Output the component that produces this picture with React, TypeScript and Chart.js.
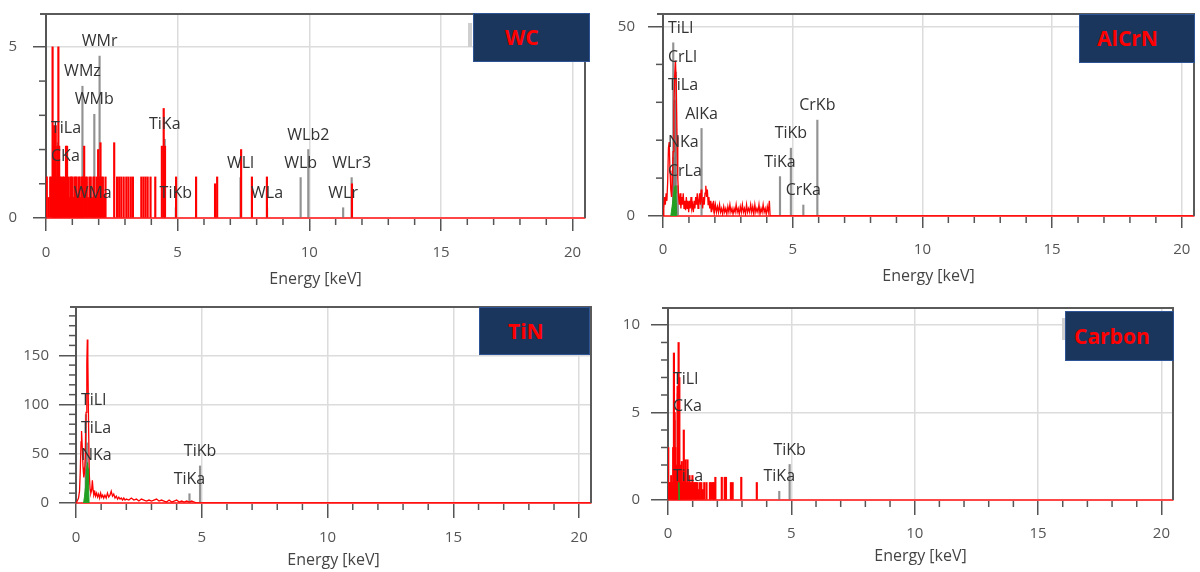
import React, { useEffect, useRef } from 'react';
import { Chart, registerables } from 'chart.js';
Chart.register(...registerables);

const FONT = '"Open Sans", "Noto Sans", sans-serif';
Chart.defaults.font.family = FONT;

// ---------------- data ----------------
const X_MAX_KEV = 20.47;
const X_TICKS = [0, 5, 10, 15, 20];
const X_TITLE = 'Energy [keV]';
const PANEL_TITLES = ['WC', 'AlCrN', 'TiN', 'Carbon'];

// WC : spectrum spikes [energy keV, counts]
const wcSpikes: [number, number][] = [
  [0.03, 1.2], [0.10, 0.6], [0.16, 1.2], [0.20, 1.2], [0.25, 5.0], [0.28, 2.1], [0.31, 2.7], [0.34, 1.2],
  [0.37, 2.7], [0.40, 1.2], [0.43, 2.1], [0.47, 5.0], [0.50, 2.1], [0.53, 1.2], [0.57, 1.2], [0.60, 0.6],
  [0.64, 1.2], [0.68, 1.2], [0.72, 0.6], [0.76, 2.1], [0.80, 2.1], [0.84, 1.2], [0.88, 0.6], [0.92, 1.2],
  [0.96, 1.2], [1.00, 1.2], [1.04, 0.6], [1.08, 1.2], [1.12, 1.2], [1.16, 1.2], [1.20, 0.6], [1.24, 1.2],
  [1.28, 1.2], [1.32, 0.6], [1.36, 1.2], [1.40, 1.2], [1.45, 2.1], [1.50, 1.2], [1.55, 1.2], [1.60, 0.6],
  [1.65, 1.2], [1.70, 1.2], [1.75, 0.6], [1.80, 1.2], [1.84, 1.2], [1.88, 0.6], [1.93, 1.2], [1.98, 2.0],
  [2.03, 1.2], [2.07, 2.2], [2.11, 1.2], [2.16, 1.2], [2.21, 0.6], [2.26, 1.2], [2.59, 2.2], [2.70, 1.2],
  [2.78, 1.2], [2.86, 1.2], [2.95, 1.2], [3.05, 1.2], [3.13, 1.2], [3.22, 1.2], [3.30, 1.2], [3.62, 1.2],
  [3.70, 1.2], [3.78, 1.2], [3.86, 1.2], [3.97, 1.2], [4.15, 1.2], [4.40, 2.1], [4.47, 3.2], [4.52, 2.1],
  [4.94, 1.2], [5.70, 1.2], [6.42, 1.0], [6.50, 1.2], [7.41, 2.0], [7.82, 1.2], [8.39, 1.2], [11.62, 1.0],
];
const wcYTicks = [0, 5];
const wcLineNames = ['CKa', 'TiLa', 'WMz', 'WMa', 'WMb', 'WMr', 'TiKa', 'TiKb', 'WLl', 'WLa', 'WLb', 'WLb2', 'WLr', 'WLr3'];
const wcLineEnergies = [0.277, 0.452, 1.384, 1.775, 1.835, 2.035, 4.51, 4.93, 7.387, 8.396, 9.671, 9.961, 11.285, 11.608];
const wcLineHeights = [1.37, 2.2, 3.85, 0.3, 3.03, 4.73, 2.3, 0.3, 1.18, 0.3, 1.18, 2.0, 0.3, 1.18];

// AlCrN : spectrum [energy, counts]
const alcrnSpectrum: [number, number][] = [
  [0, 0], [0.03, 2], [0.06, 5], [0.09, 3], [0.12, 6], [0.15, 4], [0.18, 9], [0.21, 18], [0.24, 19.5],
  [0.27, 12], [0.30, 7], [0.33, 5], [0.36, 9], [0.39, 17], [0.42, 28], [0.45, 37], [0.48, 41], [0.51, 35],
  [0.54, 21], [0.57, 10], [0.60, 5], [0.63, 3], [0.66, 6], [0.69, 2], [0.72, 5], [0.75, 3], [0.78, 6],
  [0.81, 2], [0.84, 4], [0.87, 1.5], [0.90, 5], [0.93, 2], [0.96, 4], [0.99, 1], [1.02, 4], [1.05, 2],
  [1.08, 5], [1.11, 2], [1.14, 3], [1.17, 1], [1.20, 4], [1.23, 2], [1.26, 5], [1.29, 3], [1.32, 6],
  [1.35, 2], [1.38, 4], [1.41, 6], [1.44, 3], [1.47, 7], [1.50, 4], [1.53, 2], [1.56, 5], [1.59, 3],
  [1.62, 6], [1.65, 8], [1.68, 5], [1.71, 7], [1.74, 3], [1.77, 5], [1.80, 2], [1.83, 4], [1.86, 1],
  [1.89, 3], [1.92, 2], [1.95, 4], [1.98, 1], [2.02, 3], [2.06, 1], [2.10, 2.5], [2.14, 1], [2.18, 3],
  [2.22, 1], [2.26, 2], [2.30, 0.5], [2.34, 2.5], [2.38, 1], [2.42, 2], [2.46, 0.5], [2.50, 2.5], [2.54, 1],
  [2.58, 3], [2.62, 1], [2.66, 2], [2.70, 0.5], [2.74, 2], [2.78, 1], [2.82, 3], [2.86, 1], [2.90, 2],
  [2.94, 0.5], [2.98, 2.5], [3.02, 1], [3.06, 3], [3.10, 1], [3.14, 2], [3.18, 0.5], [3.22, 3], [3.26, 1],
  [3.30, 2], [3.34, 1], [3.38, 3], [3.42, 1], [3.46, 2.5], [3.50, 0.5], [3.54, 3], [3.58, 1], [3.62, 2],
  [3.66, 1], [3.70, 3], [3.74, 0.5], [3.78, 2], [3.82, 1], [3.86, 3], [3.90, 1], [3.94, 2], [3.98, 0.5],
  [4.02, 2.5], [4.06, 1], [4.10, 4], [4.13, 0], [20.47, 0],
];
const alcrnFit: [number, number][] = [[0.30, 0], [0.35, 2.5], [0.40, 5], [0.44, 7.5], [0.47, 8], [0.50, 6], [0.53, 0]];
const alcrnYTicks = [0, 50];
const alcrnLineNames = ['TiLl', 'CrLl', 'TiLa', 'NKa', 'CrLa', 'AlKa', 'TiKa', 'TiKb', 'CrKa', 'CrKb'];
const alcrnLineEnergies = [0.395, 0.5, 0.452, 0.392, 0.573, 1.486, 4.51, 4.93, 5.41, 5.95];
const alcrnLineHeights = [45.7, 38, 30.5, 15.5, 8, 23.1, 10.4, 17.9, 2.9, 25.3];

// TiN : spectrum [energy, counts]
const tinSpectrum: [number, number][] = [
  [0, 0], [0.05, 2], [0.10, 5], [0.14, 12], [0.17, 32], [0.20, 62], [0.22, 73], [0.25, 56], [0.28, 36],
  [0.31, 26], [0.34, 31], [0.37, 48], [0.40, 92], [0.43, 142], [0.45, 166], [0.47, 148], [0.50, 78],
  [0.53, 28], [0.56, 14], [0.59, 10], [0.62, 13], [0.65, 23], [0.68, 13], [0.71, 8], [0.75, 11], [0.78, 7],
  [0.82, 10], [0.86, 6], [0.90, 9], [0.94, 5], [0.98, 10], [1.02, 6], [1.06, 8], [1.10, 5], [1.15, 8],
  [1.20, 5], [1.25, 10], [1.30, 6], [1.35, 8], [1.40, 12], [1.45, 7], [1.50, 9], [1.55, 5], [1.60, 7],
  [1.65, 4], [1.70, 6], [1.75, 4], [1.80, 5], [1.85, 3], [1.90, 5], [1.95, 3], [2.00, 4], [2.10, 3],
  [2.20, 5], [2.30, 3], [2.40, 4], [2.50, 2], [2.60, 4], [2.70, 3], [2.80, 2], [2.90, 3], [3.00, 2],
  [3.10, 3], [3.20, 4], [3.30, 2], [3.40, 3], [3.50, 2], [3.60, 1], [3.70, 3], [3.80, 1], [3.90, 2],
  [4.00, 3], [4.10, 1], [4.20, 2], [4.30, 1], [4.40, 2], [4.50, 1], [4.60, 2], [4.70, 1], [4.80, 0], [20.47, 0],
];
const tinFit: [number, number][] = [[0.30, 0], [0.34, 7], [0.38, 17], [0.41, 28], [0.44, 38], [0.46, 41], [0.48, 35], [0.50, 18], [0.52, 0]];
const tinYTicks = [0, 50, 100, 150];
const tinLineNames = ['TiLl', 'TiLa', 'NKa', 'TiKa', 'TiKb'];
const tinLineEnergies = [0.395, 0.452, 0.392, 4.51, 4.93];
const tinLineHeights = [89.8, 61, 34, 9.4, 37.6];

// Carbon : spectrum spikes [energy, counts]
const carbonSpikes: [number, number][] = [
  [0.01, 3.0], [0.05, 1.0], [0.09, 1.0], [0.13, 1.4], [0.17, 1.0], [0.21, 3.0], [0.24, 8.4], [0.27, 5.0],
  [0.30, 3.0], [0.33, 2.0], [0.36, 1.0], [0.39, 6.5], [0.43, 9.0], [0.46, 7.0], [0.49, 2.0], [0.52, 1.4],
  [0.56, 2.2], [0.60, 1.0], [0.64, 4.0], [0.67, 1.4], [0.71, 2.3], [0.75, 1.0], [0.79, 2.3], [0.83, 1.0],
  [0.87, 1.4], [0.91, 1.0], [0.95, 1.0], [0.99, 1.4], [1.04, 1.0], [1.09, 1.0], [1.14, 1.0], [1.19, 1.0],
  [1.24, 0.6], [1.29, 1.0], [1.35, 1.0], [1.41, 0.6], [1.47, 1.0], [1.56, 1.0], [1.70, 1.0], [1.76, 1.0],
  [1.82, 1.0], [1.87, 1.0], [1.92, 1.3], [2.18, 1.3], [2.30, 1.3], [2.35, 1.3], [2.55, 1.0], [2.62, 1.0],
  [2.97, 1.3], [3.60, 1.0],
];
const carbonFit: [number, number][] = [[0.41, 0], [0.44, 1.0], [0.47, 0]];
const carbonYTicks = [0, 5, 10];
const carbonLineNames = ['TiLl', 'CKa', 'TiLa', 'TiKa', 'TiKb'];
const carbonLineEnergies = [0.395, 0.277, 0.452, 4.51, 4.93];
const carbonLineHeights = [6.07, 4.54, 0.5, 0.5, 2.03];

// ---------------- styling ----------------
const RED = 'rgb(255,0,0)';
const GREEN = 'rgb(34,160,34)';
const MARKER = 'rgba(110,110,110,0.75)';
const GRID = '#dcdcdc';
const AXIS = '#555';

const edsPlugin = {
  id: 'eds',
  afterDatasetsDraw(chart: any, _a: any, o: any) {
    const { ctx, chartArea: ca } = chart;
    const xs = chart.scales.x;
    const ys = chart.scales.y;
    ctx.save();
    ctx.lineWidth = 1.5;
    ctx.strokeStyle = AXIS;
    const nx = Math.floor(xs.max / o.minorX + 1e-9);
    for (let i = 1; i <= nx; i++) {
      const v = i * o.minorX;
      if (Math.abs(v / o.majorX - Math.round(v / o.majorX)) < 1e-9) continue;
      const p = xs.getPixelForValue(v);
      ctx.beginPath();
      ctx.moveTo(p, ca.bottom + 1);
      ctx.lineTo(p, ca.bottom + o.minorLen);
      ctx.stroke();
    }
    const ny = Math.floor(ys.max / o.minorY + 1e-9);
    for (let i = 1; i <= ny; i++) {
      const v = i * o.minorY;
      if (Math.abs(v / o.majorY - Math.round(v / o.majorY)) < 1e-9) continue;
      const p = ys.getPixelForValue(v);
      ctx.beginPath();
      ctx.moveTo(ca.left - o.minorLen, p);
      ctx.lineTo(ca.left, p);
      ctx.stroke();
    }
    // frame top & right
    ctx.lineWidth = 2;
    ctx.strokeStyle = '#5a5a5a';
    ctx.beginPath();
    ctx.moveTo(ca.left - 6, ca.top);
    ctx.lineTo(ca.right, ca.top);
    ctx.lineTo(ca.right, ca.bottom);
    ctx.stroke();
    // line labels
    ctx.font = `16px ${FONT}`;
    ctx.fillStyle = '#333';
    ctx.textAlign = 'center';
    ctx.textBaseline = 'middle';
    o.names.forEach((n: string, i: number) => {
      const w = ctx.measureText(n).width;
      let cx = xs.getPixelForValue(o.energies[i]);
      cx = Math.max(cx, ca.left + 5 + w / 2);
      const top = ys.getPixelForValue(o.heights[i]);
      ctx.fillText(n, cx, top - 14.5);
    });
    ctx.restore();
  },
};

type PanelCfg = {
  left: number; top: number; w: number; h: number;
  yW: number; padTop: number; padRight: number; xH: number;
  yMax: number; yTicks: number[]; yMajor: number; yMinor: number;
  xTl: number; xPad: number; yTl: number; yPad: number; titlePad: number;
  spikes?: [number, number][]; spectrum?: [number, number][]; fit?: [number, number][];
  names: string[]; energies: number[]; heights: number[];
  box: { l: number; t: number; w: number; h: number; tl: number };
  title: string;
};

const toXY = (a: [number, number][]) => a.map(([x, y]) => ({ x, y }));

function Panel({ c }: { c: PanelCfg }) {
  const ref = useRef<HTMLCanvasElement>(null);
  useEffect(() => {
    const datasets: any[] = [];
    if (c.fit) {
      datasets.push({ type: 'line', data: toXY(c.fit), borderColor: GREEN, backgroundColor: GREEN, borderWidth: 1, pointRadius: 0, fill: 'origin', tension: 0, order: 0 });
    }
    if (c.spikes) {
      datasets.push({ type: 'bar', data: toXY(c.spikes), backgroundColor: RED, barThickness: 1.5, grouped: false, order: 1 });
    }
    if (c.spectrum) {
      datasets.push({ type: 'line', data: toXY(c.spectrum), borderColor: RED, borderWidth: 1.3, pointRadius: 0, fill: false, tension: 0, order: 1 });
    }
    datasets.push({
      type: 'bar',
      data: c.names.map((_, i) => ({ x: c.energies[i], y: c.heights[i] })),
      backgroundColor: MARKER, barThickness: 1.5, grouped: false, order: 2,
    });
    const chart = new Chart(ref.current!, {
      type: 'bar',
      data: { datasets },
      plugins: [edsPlugin],
      options: {
        animation: false,
        responsive: false,
        events: [],
        layout: { padding: { left: 0, top: c.padTop, right: c.padRight, bottom: 0 } },
        plugins: {
          legend: { display: false },
          tooltip: { enabled: false },
          eds: { names: c.names, energies: c.energies, heights: c.heights, minorX: 1, majorX: 5, minorY: c.yMinor, majorY: c.yMajor, minorLen: 7 },
        } as any,
        scales: {
          x: {
            type: 'linear', min: 0, max: X_MAX_KEV, offset: false,
            afterBuildTicks: (s: any) => { s.ticks = X_TICKS.map((v) => ({ value: v })); },
            afterFit: (s: any) => { s.height = c.xH; s.paddingLeft = 0; s.paddingRight = 0; },
            ticks: { color: '#555', font: { family: FONT, size: 15 }, padding: c.xPad, maxRotation: 0, autoSkip: false, callback: (v: any) => String(v) },
            grid: { offset: false, color: (g: any) => (g.tick && g.tick.value > 0 ? GRID : 'rgba(0,0,0,0)'), lineWidth: 1.5, tickColor: AXIS, tickLength: c.xTl, tickWidth: 1.5 },
            border: { color: 'rgb(255,70,70)', width: 2 },
            title: { display: true, text: X_TITLE, color: '#444', font: { family: FONT, size: 16 }, padding: { top: 0, bottom: c.titlePad } },
          },
          y: {
            type: 'linear', min: 0, max: c.yMax,
            afterBuildTicks: (s: any) => { s.ticks = c.yTicks.map((v) => ({ value: v })); },
            afterFit: (s: any) => { s.width = c.yW; s.paddingTop = 0; s.paddingBottom = 0; },
            ticks: { color: '#555', font: { family: FONT, size: 15 }, padding: c.yPad, autoSkip: false, callback: (v: any) => String(v) },
            grid: { color: (g: any) => (g.tick && g.tick.value > 0 ? GRID : 'rgba(0,0,0,0)'), lineWidth: 1.5, tickColor: AXIS, tickLength: c.yTl, tickWidth: 1.5 },
            border: { color: AXIS, width: 2 },
          },
        } as any,
      },
    } as any);
    return () => chart.destroy();
  }, []);
  return (
    <>
      <canvas ref={ref} width={c.w} height={c.h} style={{ position: 'absolute', left: c.left, top: c.top, width: c.w, height: c.h, display: 'block' }} />
      <div style={{ position: 'absolute', left: c.box.l, top: c.box.t, width: c.box.w, height: c.box.h, background: '#1b365d', border: '1px solid #2f5496', boxSizing: 'border-box', color: '#ff0000', fontFamily: FONT, fontWeight: 700, fontSize: 21, lineHeight: `${c.box.h - 2}px`, paddingLeft: c.box.tl, whiteSpace: 'nowrap' }}>
        {c.title}
      </div>
    </>
  );
}

const PANELS: PanelCfg[] = [
  {
    left: 0, top: 0, w: 600, h: 290, yW: 46, padTop: 14, padRight: 15, xH: 72,
    yMax: 5.96, yTicks: wcYTicks, yMajor: 5, yMinor: 1, xTl: 13, xPad: 13, yTl: 13, yPad: 16, titlePad: 1.4,
    spikes: wcSpikes, names: wcLineNames, energies: wcLineEnergies, heights: wcLineHeights,
    box: { l: 473, t: 13, w: 117, h: 49, tl: 31 }, title: PANEL_TITLES[0],
  },
  {
    left: 600, top: 0, w: 600, h: 290, yW: 63, padTop: 14, padRight: 6, xH: 74,
    yMax: 53.3, yTicks: alcrnYTicks, yMajor: 50, yMinor: 10, xTl: 12, xPad: 13, yTl: 15, yPad: 13, titlePad: 4.4,
    spectrum: alcrnSpectrum, fit: alcrnFit, names: alcrnLineNames, energies: alcrnLineEnergies, heights: alcrnLineHeights,
    box: { l: 1079, t: 14, w: 116, h: 49, tl: 17 }, title: PANEL_TITLES[1],
  },
  {
    left: 0, top: 290, w: 600, h: 282, yW: 76, padTop: 17, padRight: 9, xH: 69,
    yMax: 199, yTicks: tinYTicks, yMajor: 50, yMinor: 10, xTl: 15, xPad: 11, yTl: 17, yPad: 10, titlePad: 1.7,
    spectrum: tinSpectrum, fit: tinFit, names: tinLineNames, energies: tinLineEnergies, heights: tinLineHeights,
    box: { l: 479, t: 307, w: 111, h: 48, tl: 28 }, title: PANEL_TITLES[2],
  },
  {
    left: 600, top: 290, w: 600, h: 282, yW: 68, padTop: 18, padRight: 27, xH: 72,
    yMax: 10.97, yTicks: carbonYTicks, yMajor: 5, yMinor: 1, xTl: 15, xPad: 10, yTl: 17, yPad: 11, titlePad: 5.7,
    spikes: carbonSpikes, fit: carbonFit, names: carbonLineNames, energies: carbonLineEnergies, heights: carbonLineHeights,
    box: { l: 1065, t: 311, w: 109, h: 50, tl: 8 }, title: PANEL_TITLES[3],
  },
];

export default function App() {
  return (
    <div style={{ position: 'fixed', left: 0, top: 0, width: 1200, height: 572, background: '#fff', overflow: 'hidden' }}>
      {PANELS.map((p, i) => <Panel key={i} c={p} />)}
      <div style={{ position: 'absolute', left: 468, top: 23, width: 4, height: 24, background: '#cfcfcf' }} />
      <div style={{ position: 'absolute', left: 1062, top: 318, width: 3, height: 22, background: '#cfcfcf' }} />
    </div>
  );
}
